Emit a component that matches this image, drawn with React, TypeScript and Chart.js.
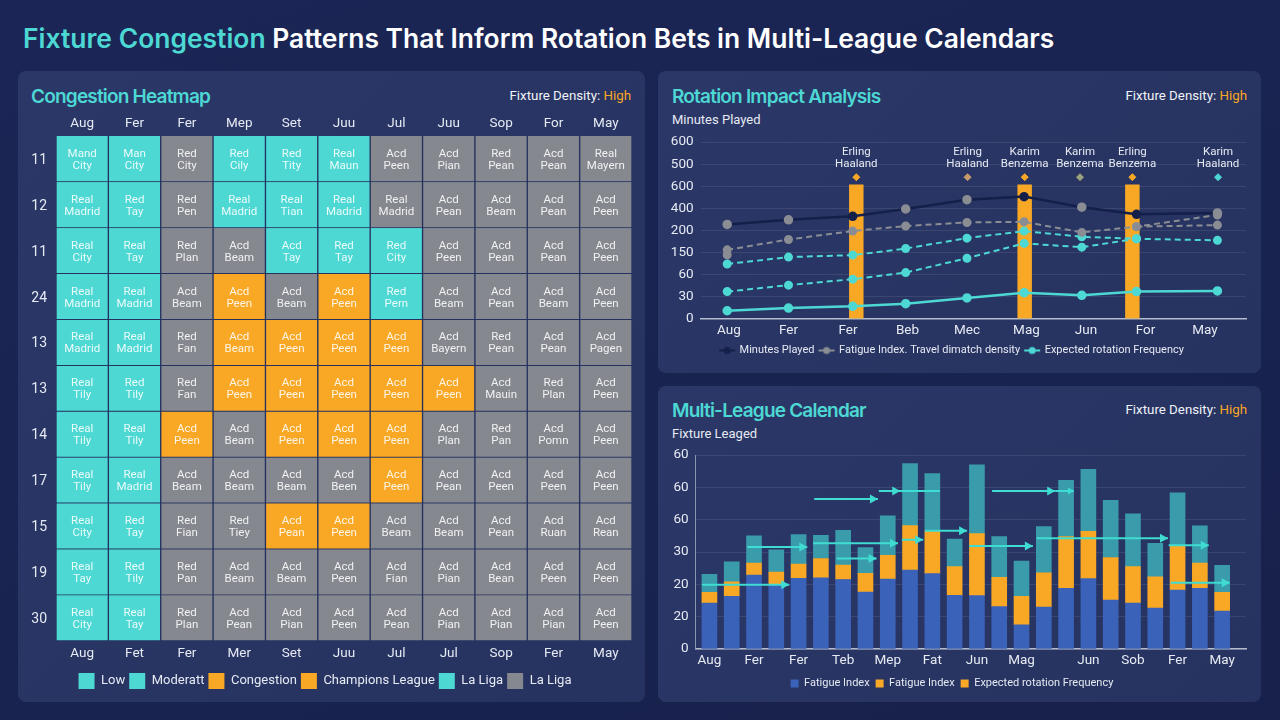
import { useEffect, useRef } from 'react';
import { Chart, registerables } from 'chart.js';

Chart.register(...registerables);

const FONT = 'Inter, "Noto Sans", sans-serif';
const LABEL_FONT = 'Roboto, "Noto Sans", sans-serif';
const TEXT = '#e6eaf3';
const PANEL_EDGE = '#25325f';
const TEAL = '#4dd8d4';
const ORANGE = '#f9a825';
const GREY = '#85888f';

// heatmap
const heatTopLabels = ['Aug', 'Fer', 'Fer', 'Mep', 'Set', 'Juu', 'Jul', 'Juu', 'Sop', 'For', 'May'];
const heatBottomLabels = ['Aug', 'Fet', 'Fer', 'Mer', 'Set', 'Juu', 'Jul', 'Jul', 'Sop', 'Fer', 'May'];
const heatRowLabels = ['11', '12', '11', '24', '13', '13', '14', '17', '15', '19', '30'];
const heatLevels = [
  'TTGTTTGGGGG',
  'TTGTTTGGGGG',
  'TTGGTTTGGGG',
  'TTGOGOTGGGG',
  'TTGOOOOGGGG',
  'TTGOOOOOGGG',
  'TTOGOOOGGGG',
  'TTGGGGOGGGG',
  'TTGGOOGGGGG',
  'TTGGGGGGGGG',
  'TTGGGGGGGGG',
];
const heatCells = [
  ['Mand City', 'Man City', 'Red City', 'Red Cily', 'Red Tity', 'Real Maun', 'Acd Peen', 'Acd Pian', 'Red Pean', 'Acd Pean', 'Real Mayern'],
  ['Real Madrid', 'Red Tay', 'Red Pen', 'Real Madrid', 'Real Tian', 'Real Madrid', 'Real Madrid', 'Acd Pean', 'Acd Beam', 'Acd Pean', 'Acd Peen'],
  ['Real City', 'Real Tay', 'Red Plan', 'Acd Beam', 'Acd Tay', 'Red Tay', 'Red City', 'Acd Peen', 'Acd Pean', 'Acd Pean', 'Acd Peen'],
  ['Real Madrid', 'Real Madrid', 'Acd Beam', 'Acd Peen', 'Acd Beam', 'Acd Peen', 'Red Pern', 'Acd Beam', 'Acd Pean', 'Acd Beam', 'Acd Peen'],
  ['Real Madrid', 'Real Madrid', 'Red Fan', 'Acd Beam', 'Acd Peen', 'Acd Peen', 'Acd Peen', 'Acd Bayern', 'Red Pean', 'Acd Pean', 'Acd Pagen'],
  ['Real Tily', 'Red Tily', 'Red Fan', 'Acd Peen', 'Acd Peen', 'Acd Peen', 'Acd Peen', 'Acd Peen', 'Acd Mauin', 'Red Plan', 'Acd Peen'],
  ['Real Tily', 'Real Tily', 'Acd Peen', 'Acd Beam', 'Acd Peen', 'Acd Peen', 'Acd Peen', 'Acd Plan', 'Red Pan', 'Acd Pomn', 'Acd Peen'],
  ['Real Tily', 'Real Madrid', 'Acd Beam', 'Acd Beam', 'Acd Beam', 'Acd Been', 'Acd Peen', 'Acd Pean', 'Acd Peen', 'Acd Peen', 'Acd Peen'],
  ['Real City', 'Red Tay', 'Red Fian', 'Red Tiey', 'Acd Pean', 'Acd Peen', 'Acd Beam', 'Acd Beam', 'Acd Pean', 'Acd Ruan', 'Acd Rean'],
  ['Real Tay', 'Red Tily', 'Red Pan', 'Acd Beam', 'Acd Beam', 'Acd Peen', 'Acd Fian', 'Acd Pian', 'Acd Bean', 'Acd Peen', 'Acd Peen'],
  ['Real City', 'Real Tay', 'Red Plan', 'Acd Pean', 'Acd Pian', 'Acd Peen', 'Acd Pean', 'Acd Pian', 'Acd Pian', 'Acd Pian', 'Acd Peen'],
];
const heatLegendLabels = ['Low', 'Moderatt', 'Congestion', 'Champions League', 'La Liga', 'La Liga'];
const heatLegendColors = [TEAL, TEAL, ORANGE, ORANGE, TEAL, GREY];
const levelColors: Record<string, string> = { T: TEAL, G: GREY, O: ORANGE };

// rotation impact
const lineTickLabels = ['Aug', 'Fer', 'Fer', 'Beb', 'Mec', 'Mag', 'Jun', 'For', 'May'];
const lineYLabels = ['0', '30', '60', '150', '200', '400', '600', '500', '600'];
const lineX = [-0.03, 1.0, 2.08, 2.97, 4.0, 4.96, 5.93, 6.85, 8.21];
const minutesPlayed = [4.27, 4.48, 4.64, 4.97, 5.39, 5.53, 5.05, 4.73, 4.79];
const minutesDots = ['#8a8d93', '#8a8d93', '#141f4a', '#8a8d93', '#8a8d93', '#141f4a', '#8a8d93', '#141f4a', '#8a8d93'];
const fatigueIndex = [3.12, 3.59, 3.97, 4.2, 4.36, 4.39, 3.91, 4.17, 4.7];
const travelDensity = [2.89, null, null, null, null, null, null, 4.17, 4.24];
const rotationHigh = [2.48, 2.79, 2.88, 3.18, 3.65, 3.97, 3.71, 3.62, 3.55];
const rotationMid = [1.23, 1.52, 1.79, 2.09, 2.74, 3.41, 3.24, 3.62, null];
const rotationLow = [0.36, 0.48, 0.56, 0.68, 0.94, 1.18, 1.06, 1.23, 1.26];
const peakX = [2.14, 4.97, 6.78];
const peakValues = [6.06, 6.06, 6.06];
const calloutX = [2.14, 4.01, 4.97, 5.9, 6.78, 8.22];
const calloutY = [6.41, 6.41, 6.41, 6.41, 6.41, 6.41];
const calloutFirst = ['Erling', 'Erling', 'Karim', 'Karim', 'Erling', 'Karim'];
const calloutSecond = ['Haaland', 'Haaland', 'Benzema', 'Benzema', 'Benzema', 'Haaland'];
const calloutColors = [ORANGE, '#c79a6b', ORANGE, '#9aa27f', ORANGE, TEAL];
const lineLegendLabels = ['Minutes Played', 'Fatigue Index. Travel dimatch density', 'Expected rotation Frequency'];
const lineLegendColors = ['#141f4a', '#8a8d93', TEAL];

// multi-league calendar
const barTickLabels = ['Aug', '', 'Fer', '', 'Fer', '', 'Teb', '', 'Mep', '', 'Fat', '', 'Jun', '', 'Mag', '', '', 'Jun', '', 'Sob', '', 'Fer', '', 'May'];
const barYLabels = ['0', '20', '20', '30', '60', '60', '60'];
const fixtureBase = [1.42, 1.63, 2.29, 2.0, 2.19, 2.2, 2.15, 1.76, 2.16, 2.44, 2.33, 1.66, 1.65, 1.31, 0.75, 1.3, 1.88, 2.18, 1.51, 1.42, 1.27, 1.82, 1.88, 1.17];
const fixtureMiddle = [0.33, 0.45, 0.37, 0.38, 0.44, 0.6, 0.45, 0.58, 0.74, 1.38, 1.33, 0.89, 1.92, 0.91, 0.88, 1.06, 1.6, 1.46, 1.32, 1.13, 0.96, 1.37, 0.78, 0.58];
const fixtureTop = [0.56, 0.62, 0.84, 0.69, 0.91, 0.72, 1.07, 0.8, 1.22, 1.92, 1.77, 0.85, 2.13, 1.26, 1.09, 1.43, 1.74, 1.92, 1.77, 1.63, 1.04, 1.64, 1.15, 0.84];
const arrowStart = [-0.33, 1.7, 4.7, 4.65, 5.71, 7.6, 8.63, 9.67, 11.65, 12.68, 14.68, 20.6, 20.69];
const arrowEnd = [3.58, 4.39, 7.56, 8.46, 7.5, 10.34, 9.59, 11.56, 14.51, 15.51, 20.57, 22.4, 23.34];
const arrowHead = [3.58, 4.39, 7.56, 8.46, 7.5, 8.56, 9.59, 11.56, 14.51, 15.51, 20.57, 22.4, 23.34];
const arrowY = [1.99, 3.16, 4.64, 3.27, 2.8, 4.89, 3.38, 3.66, 3.19, 4.89, 3.43, 3.21, 2.05];
const barLegendLabels = ['Fatigue Index', 'Fatigue Index', 'Expected rotation Frequency'];
const barLegendColors = ['#3a62b8', ORANGE, ORANGE];

const fixedWidth = (w: number) => (scale: any) => {
  scale.width = w;
};
const fixedHeight = (h: number) => (scale: any) => {
  scale.height = h;
};
const tickFont = { family: LABEL_FONT, size: 13.5 };

const legendDot = (color: string) => {
  const c = document.createElement('canvas');
  c.width = 18;
  c.height = 12;
  const g = c.getContext('2d')!;
  g.strokeStyle = color;
  g.lineWidth = 2;
  g.beginPath();
  g.moveTo(1, 6);
  g.lineTo(17, 6);
  g.stroke();
  g.fillStyle = color;
  g.beginPath();
  g.arc(9, 6, 3.5, 0, Math.PI * 2);
  g.fill();
  return c;
};

const cellText = {
  id: 'cellText',
  afterDatasetsDraw(chart: any) {
    const { ctx } = chart;
    ctx.save();
    ctx.font = `11.5px ${LABEL_FONT}`;
    ctx.textAlign = 'center';
    ctx.textBaseline = 'middle';
    ctx.fillStyle = 'rgba(255,255,255,0.88)';
    heatCells.forEach((row, r) => {
      const bars = chart.getDatasetMeta(r).data;
      row.forEach((cell, c) => {
        const [a, b] = cell.split(' ');
        const x = bars[c].x;
        const y = (bars[c].y + bars[c].base) / 2;
        ctx.fillText(a, x, y - 5);
        ctx.fillText(b, x, y + 7);
      });
    });
    ctx.restore();
  },
};

const calloutText = {
  id: 'calloutText',
  afterDatasetsDraw(chart: any) {
    const { ctx, scales } = chart;
    ctx.save();
    ctx.font = `11.5px ${LABEL_FONT}`;
    ctx.textAlign = 'center';
    ctx.textBaseline = 'middle';
    ctx.fillStyle = TEXT;
    calloutX.forEach((v, i) => {
      const x = scales.x.getPixelForValue(v);
      const y = scales.y.getPixelForValue(calloutY[i]);
      ctx.fillText(calloutFirst[i], x, y - 25);
      ctx.fillText(calloutSecond[i], x, y - 13);
    });
    ctx.restore();
  },
};

const arrows = {
  id: 'arrows',
  afterDatasetsDraw(chart: any) {
    const { ctx, scales } = chart;
    ctx.save();
    ctx.strokeStyle = '#3fdcd2';
    ctx.fillStyle = '#3fdcd2';
    ctx.lineWidth = 2;
    arrowStart.forEach((v, i) => {
      const y = scales.y.getPixelForValue(arrowY[i]);
      const head = scales.x.getPixelForValue(arrowHead[i]);
      ctx.beginPath();
      ctx.moveTo(scales.x.getPixelForValue(v), y);
      ctx.lineTo(scales.x.getPixelForValue(arrowEnd[i]), y);
      ctx.stroke();
      ctx.beginPath();
      ctx.moveTo(head, y);
      ctx.lineTo(head - 8, y - 4.5);
      ctx.lineTo(head - 8, y + 4.5);
      ctx.closePath();
      ctx.fill();
    });
    // second head on the long upper arrow
    const tip = scales.x.getPixelForValue(16.35);
    const y2 = scales.y.getPixelForValue(4.89);
    ctx.beginPath();
    ctx.moveTo(scales.x.getPixelForValue(15.51), y2);
    ctx.lineTo(tip, y2);
    ctx.stroke();
    ctx.beginPath();
    ctx.moveTo(tip, y2);
    ctx.lineTo(tip - 6, y2 - 3.5);
    ctx.lineTo(tip - 6, y2 + 3.5);
    ctx.closePath();
    ctx.fill();
    ctx.restore();
  },
};

const points = (xs: number[], ys: (number | null)[]) => xs.map((x, i) => ({ x, y: ys[i] }));

const HeatmapCanvas = () => {
  const ref = useRef<HTMLCanvasElement | null>(null);
  useEffect(() => {
    if (!ref.current) return;
    const chart = new Chart(ref.current, {
      type: 'bar',
      data: {
        labels: heatBottomLabels,
        datasets: heatLevels.map((row, r) => ({
          label: heatRowLabels[r],
          data: row.split('').map(() => 1),
          backgroundColor: row.split('').map((l) => levelColors[l]),
          borderColor: PANEL_EDGE,
          borderWidth: 1,
          barPercentage: 1,
          categoryPercentage: 1,
        })),
      },
      plugins: [cellText],
      options: {
        animation: false,
        responsive: false,
        layout: { padding: { left: 0, right: 13, top: 0, bottom: 4 } },
        scales: {
          x: {
            stacked: true,
            grid: { display: false, drawTicks: false },
            border: { display: false },
            ticks: { color: TEXT, font: tickFont, maxRotation: 0, autoSkip: false, padding: 5 },
            afterFit: fixedHeight(28),
          },
          xTop: {
            axis: 'x',
            type: 'category',
            position: 'top',
            offset: true,
            labels: heatTopLabels,
            grid: { display: false, drawTicks: false },
            border: { display: false },
            ticks: { color: TEXT, font: tickFont, maxRotation: 0, autoSkip: false, padding: 4 },
            afterFit: fixedHeight(31),
          },
          y: {
            stacked: true,
            reverse: true,
            min: 0,
            max: 11,
            grid: { display: false, drawTicks: false },
            border: { display: false },
            afterBuildTicks: (scale: any) => {
              scale.ticks = heatRowLabels.map((_, i) => ({ value: i + 0.53 }));
            },
            ticks: {
              color: TEXT,
              font: { family: LABEL_FONT, size: 14 },
              autoSkip: false,
              padding: 9,
              callback: (_v: any, i: number) => heatRowLabels[i],
            },
            afterFit: fixedWidth(38),
          },
        },
        plugins: {
          tooltip: { enabled: false },
          legend: {
            position: 'bottom',
            labels: {
              color: TEXT,
              font: { family: LABEL_FONT, size: 13 },
              boxWidth: 16,
              boxHeight: 16,
              padding: 4,
              generateLabels: () =>
                heatLegendLabels.map((text, i) => ({
                  text,
                  fillStyle: heatLegendColors[i],
                  strokeStyle: heatLegendColors[i],
                  lineWidth: 0,
                  fontColor: TEXT,
                  hidden: false,
                })),
            },
          },
        },
      },
    } as any);
    return () => chart.destroy();
  }, []);
  return <canvas ref={ref} width={627} height={598} style={{ position: 'absolute', left: 18, top: 105 }} />;
};

const LineCanvas = () => {
  const ref = useRef<HTMLCanvasElement | null>(null);
  useEffect(() => {
    if (!ref.current) return;
    const dashed = { borderWidth: 2, borderDash: [6, 4], pointRadius: 3.5, tension: 0, order: 1 };
    const chart = new Chart(ref.current, {
      type: 'line',
      data: {
        datasets: [
          {
            type: 'bar',
            data: points(peakX, peakValues),
            backgroundColor: ORANGE,
            barThickness: 13.8,
            order: 5,
          },
          {
            data: points(lineX, minutesPlayed),
            borderColor: '#141f4a',
            borderWidth: 2.5,
            pointBackgroundColor: minutesDots,
            pointBorderColor: minutesDots,
            pointRadius: 3.5,
            order: 0,
          },
          { data: points(lineX, fatigueIndex), borderColor: '#8a8d93', pointBackgroundColor: '#8a8d93', pointBorderColor: '#8a8d93', ...dashed },
          { data: points(lineX, travelDensity), borderColor: '#8a8d93', pointBackgroundColor: '#8a8d93', pointBorderColor: '#8a8d93', ...dashed },
          { data: points(lineX, rotationHigh), borderColor: TEAL, pointBackgroundColor: TEAL, pointBorderColor: TEAL, ...dashed },
          { data: points(lineX, rotationMid), borderColor: TEAL, pointBackgroundColor: TEAL, pointBorderColor: TEAL, ...dashed },
          {
            data: points(lineX, rotationLow),
            borderColor: TEAL,
            borderWidth: 2.5,
            pointBackgroundColor: TEAL,
            pointBorderColor: TEAL,
            pointRadius: 3.5,
            order: 1,
          },
          {
            type: 'scatter',
            data: points(calloutX, calloutY),
            pointStyle: 'rectRot',
            pointRadius: 3.5,
            pointBackgroundColor: calloutColors,
            pointBorderColor: calloutColors,
            order: 0,
          },
        ],
      },
      plugins: [calloutText],
      options: {
        animation: false,
        responsive: false,
        layout: { padding: { left: 0, right: 15, top: 8.7, bottom: 6 } },
        scales: {
          x: {
            type: 'linear',
            offset: false,
            min: -0.477,
            max: 8.69,
            grid: { display: false, offset: false, drawTicks: false },
            border: { color: '#b4bccd', width: 1.5 },
            afterBuildTicks: (scale: any) => {
              scale.ticks = lineTickLabels.map((_, i) => ({ value: i }));
            },
            ticks: {
              color: TEXT,
              font: tickFont,
              autoSkip: false,
              maxRotation: 0,
              padding: 4,
              callback: (_v: any, i: number) => lineTickLabels[i],
            },
            afterFit: fixedHeight(21.3),
          },
          y: {
            min: 0,
            max: 8,
            grid: { color: 'rgba(255,255,255,0.09)', drawTicks: false },
            border: { display: false },
            afterBuildTicks: (scale: any) => {
              scale.ticks = lineYLabels.map((_, i) => ({ value: i }));
            },
            ticks: {
              color: TEXT,
              font: tickFont,
              autoSkip: false,
              padding: 7,
              callback: (_v: any, i: number) => lineYLabels[i],
            },
            afterFit: fixedWidth(42.6),
          },
        },
        plugins: {
          tooltip: { enabled: false },
          legend: {
            position: 'bottom',
            labels: {
              color: TEXT,
              font: { family: LABEL_FONT, size: 11 },
              usePointStyle: true,
              pointStyleWidth: 14,
              boxHeight: 12,
              padding: 5,
              generateLabels: () =>
                lineLegendLabels.map((text, i) => ({
                  text,
                  pointStyle: legendDot(lineLegendColors[i]),
                  fillStyle: lineLegendColors[i],
                  strokeStyle: lineLegendColors[i],
                  lineWidth: 0,
                  fontColor: TEXT,
                  hidden: false,
                })),
            },
          },
        },
      },
    } as any);
    return () => chart.destroy();
  }, []);
  return <canvas ref={ref} width={603} height={245} style={{ position: 'absolute', left: 658, top: 127 }} />;
};

const BarCanvas = () => {
  const ref = useRef<HTMLCanvasElement | null>(null);
  useEffect(() => {
    if (!ref.current) return;
    const xs = fixtureBase.map((_, i) => i);
    const chart = new Chart(ref.current, {
      type: 'bar',
      data: {
        datasets: [
          { data: points(xs, fixtureBase), backgroundColor: '#3a62b8', barThickness: 15 },
          { data: points(xs, fixtureMiddle), backgroundColor: ORANGE, barThickness: 15 },
          { data: points(xs, fixtureTop), backgroundColor: '#3a9bab', barThickness: 15 },
        ],
      },
      plugins: [arrows],
      options: {
        animation: false,
        responsive: false,
        layout: { padding: { left: 0, right: 15, top: 10, bottom: 6 } },
        scales: {
          x: {
            type: 'linear',
            stacked: true,
            offset: false,
            min: -0.62,
            max: 24.07,
            grid: { display: false, offset: false, drawTicks: false },
            border: { color: '#b4bccd', width: 1.5 },
            afterBuildTicks: (scale: any) => {
              scale.ticks = barTickLabels.map((_, i) => ({ value: i }));
            },
            ticks: {
              color: TEXT,
              font: tickFont,
              autoSkip: false,
              maxRotation: 0,
              padding: 4,
              callback: (_v: any, i: number) => barTickLabels[i],
            },
            afterFit: fixedHeight(23),
          },
          y: {
            stacked: true,
            min: 0,
            max: 6,
            grid: { color: 'rgba(255,255,255,0.09)', drawTicks: false },
            border: { color: '#8b95ad', width: 1 },
            afterBuildTicks: (scale: any) => {
              scale.ticks = barYLabels.map((_, i) => ({ value: i }));
            },
            ticks: {
              color: TEXT,
              font: tickFont,
              autoSkip: false,
              padding: 7,
              callback: (_v: any, i: number) => barYLabels[i],
            },
            afterFit: fixedWidth(37.6),
          },
        },
        plugins: {
          tooltip: { enabled: false },
          legend: {
            position: 'bottom',
            labels: {
              color: TEXT,
              font: { family: LABEL_FONT, size: 11 },
              boxWidth: 8,
              boxHeight: 8,
              padding: 6,
              generateLabels: () =>
                barLegendLabels.map((text, i) => ({
                  text,
                  fillStyle: barLegendColors[i],
                  strokeStyle: barLegendColors[i],
                  lineWidth: 0,
                  fontColor: TEXT,
                  hidden: false,
                })),
            },
          },
        },
      },
    } as any);
    return () => chart.destroy();
  }, []);
  return <canvas ref={ref} width={603} height={265} style={{ position: 'absolute', left: 658, top: 440 }} />;
};

const panelStyle = (left: number, top: number, width: number, height: number): React.CSSProperties => ({
  position: 'absolute',
  left,
  top,
  width,
  height,
  borderRadius: 8,
  background: 'linear-gradient(135deg, #2b3767 0%, #26325f 100%)',
});

const Heading = ({ x, y, right, text }: { x: number; y: number; right: number; text: string }) => (
  <>
    <div style={{ position: 'absolute', left: x, top: y - 13, lineHeight: '28px', fontSize: 19, fontWeight: 600, color: TEAL, letterSpacing: -0.8 }}>
      {text}
    </div>
    <div style={{ position: 'absolute', right: 1280 - right, top: y - 10, lineHeight: '20px', fontFamily: LABEL_FONT, fontSize: 13.3, color: '#f0f3f8' }}>
      Fixture Density: <span style={{ color: ORANGE }}>High</span>
    </div>
  </>
);

export default function App() {
  return (
    <div
      style={{
        position: 'fixed',
        inset: 0,
        overflow: 'hidden',
        fontFamily: FONT,
        background: 'linear-gradient(160deg, #1b2656 0%, #17214b 100%)',
      }}
    >
      <div style={{ position: 'absolute', left: 23, top: 20, lineHeight: '36px', fontSize: 26.45, fontWeight: 600, color: '#fff', whiteSpace: 'nowrap' }}>
        <span style={{ color: TEAL }}>Fixture Congestion</span> Patterns That Inform Rotation Bets in Multi-League Calendars
      </div>
      <div style={panelStyle(18, 71, 627, 631)} />
      <div style={panelStyle(658, 71, 603, 302)} />
      <div style={panelStyle(658, 386, 603, 316)} />
      <Heading x={31} y={96} right={631} text="Congestion Heatmap" />
      <Heading x={672} y={96} right={1247} text="Rotation Impact Analysis" />
      <Heading x={672} y={410} right={1247} text="Multi-League Calendar" />
      <div style={{ position: 'absolute', left: 672, top: 110, lineHeight: '20px', fontFamily: LABEL_FONT, fontSize: 13, color: TEXT }}>Minutes Played</div>
      <div style={{ position: 'absolute', left: 672, top: 424, lineHeight: '20px', fontFamily: LABEL_FONT, fontSize: 13, color: TEXT }}>Fixture Leaged</div>
      <HeatmapCanvas />
      <LineCanvas />
      <BarCanvas />
    </div>
  );
}
